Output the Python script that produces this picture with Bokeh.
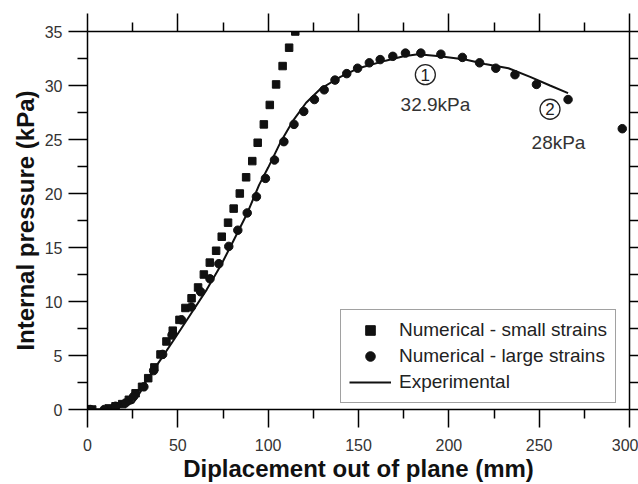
from bokeh.plotting import figure
from bokeh.models import (Range1d, LinearAxis, FixedTicker, Legend, LegendItem,
                          CustomJSTickFormatter)
from bokeh.core.properties import value
from bokeh.embed import file_html
from bokeh.resources import INLINE

# ---------------- data ----------------
x_ticks = [0, 50, 100, 150, 200, 250, 300]
x_minor = [25, 75, 125, 175, 225, 275]
y_ticks = [0, 5, 10, 15, 20, 25, 30, 35]
y_minor = [2.5, 7.5, 12.5, 17.5, 22.5, 27.5, 32.5]

small_x = [0, 2.6, 11.8, 15.5, 19.2, 22.9, 26.6, 30.2, 33.6, 37.0, 40.4, 43.7, 47.2,
           50.9, 54.2, 57.6, 61.2, 64.4, 67.7, 71.2, 74.3, 77.8, 80.9, 84.3, 87.8,
           91.2, 94.2, 97.6, 100.9, 104.4, 108.0, 111.6, 115.0]
small_y = [0, 0, 0.1, 0.3, 0.5, 0.9, 1.5, 2.1, 2.9, 3.9, 5.1, 6.3, 7.3,
           8.3, 9.4, 10.3, 11.3, 12.5, 13.6, 14.7, 16.0, 17.3, 18.6, 20.0, 21.5,
           23.0, 24.7, 26.4, 28.2, 30.1, 31.8, 33.5, 35.0]

large_x = [0, 1.5, 9.3, 15.5, 21.0, 25.5, 31.2, 36.6, 41.6, 46.8, 52.0, 57.5, 62.6,
           67.8, 72.7, 78.2, 83.2, 88.4, 93.5, 98.5, 103.5, 108.7, 114.3, 119.7,
           125.6, 131.0, 137.0, 143.5, 149.5, 156.0, 162.0, 169.0, 176.0, 184.5,
           195.6, 207.5, 217.0, 226.0, 236.6, 248.5, 266.0, 296.0]
large_y = [0, 0, 0, 0.3, 0.6, 1.2, 2.1, 3.6, 5.1, 6.9, 8.3, 9.5, 10.9,
           12.1, 13.5, 15.1, 16.6, 18.2, 19.7, 21.4, 23.1, 24.8, 26.4, 27.6,
           28.7, 29.6, 30.5, 31.1, 31.6, 32.1, 32.4, 32.7, 33.0, 33.0,
           32.9, 32.6, 32.1, 31.6, 31.0, 30.1, 28.7, 26.0]

exp_x = [0, 10, 20, 25.5, 30, 33, 40, 48, 57, 66, 74, 81, 88.5, 95, 100, 107, 114,
         121, 129, 140, 150, 165, 175, 183, 195, 209, 220, 233, 245, 256, 266]
exp_y = [0, 0.05, 0.3, 0.65, 1.8, 2.8, 4.5, 6.5, 8.8, 11.1, 13.4, 15.7, 18.2, 20.8,
         22.4, 24.8, 26.8, 28.4, 29.7, 30.8, 31.6, 32.3, 32.7, 32.9, 32.7, 32.4,
         32.0, 31.6, 30.8, 30.0, 29.3]

circ_x = [187, 256]
circ_y = [31.0, 27.8]
circ_txt = ["1", "2"]
note_x = [192.6, 260.7]
note_y = [28.2, 24.75]
note_txt = ["32.9kPa", "28kPa"]

labels = ["Numerical - small strains", "Numerical - large strains", "Experimental"]

FONT = "Liberation Sans"

# ---------------- figure ----------------
p = figure(width=638, height=484, output_backend="svg", toolbar_location=None,
           x_range=Range1d(0, 300), y_range=Range1d(0, 35),
           min_border_left=87, min_border_top=31, min_border_right=9, min_border_bottom=74)
p.outline_line_color = None
p.xgrid.visible = False
p.ygrid.visible = False
p.background_fill_color = "white"
p.border_fill_color = "white"

xt = FixedTicker(ticks=x_ticks, minor_ticks=x_minor)
yt = FixedTicker(ticks=y_ticks, minor_ticks=y_minor)


def style(ax, major_out, minor_out, color="black"):
    ax.axis_line_color = color
    ax.axis_line_width = 1.5
    ax.major_tick_line_color = color
    ax.major_tick_line_width = 1.5
    ax.minor_tick_line_color = color
    ax.minor_tick_line_width = 1.5
    ax.major_tick_in = 0
    ax.minor_tick_in = 0
    ax.major_tick_out = major_out
    ax.minor_tick_out = minor_out


xa = p.xaxis[0]
xa.ticker = xt
style(xa, 18, 9)
xa.major_label_text_font = FONT
xa.major_label_text_font_size = "16px"
xa.major_label_text_color = "#333333"
xa.major_label_standoff = 11
xa.axis_label = "Diplacement out of plane (mm)"
xa.axis_label_text_font = FONT
xa.axis_label_text_font_style = "bold"
xa.axis_label_text_font_size = "24px"
xa.axis_label_text_color = "#111111"
xa.axis_label_standoff = 1

ya = p.yaxis[0]
ya.ticker = yt
style(ya, 19, 10)
ya.major_label_text_font = FONT
ya.major_label_text_font_size = "16px"
ya.major_label_text_color = "#333333"
ya.major_label_standoff = 6
ya.axis_label = "Internal pressure (kPa)"
ya.axis_label_text_font = FONT
ya.axis_label_text_font_style = "bold"
ya.axis_label_text_font_size = "24px"
ya.axis_label_text_color = "#111111"
ya.axis_label_standoff = 3

blank = CustomJSTickFormatter(code="return ''")

top = LinearAxis(ticker=FixedTicker(ticks=x_ticks, minor_ticks=x_minor), formatter=blank)
style(top, 18, 9)
top.major_label_text_font_size = "8px"
top.major_label_text_color = None
top.major_label_standoff = 0
p.add_layout(top, "above")

right = LinearAxis(ticker=FixedTicker(ticks=y_ticks, minor_ticks=y_minor), formatter=blank)
style(right, 9, 9)
right.major_label_text_font_size = "8px"
right.major_label_text_color = None
right.major_label_standoff = 0
p.add_layout(right, "right")

# ---------------- glyphs ----------------
r_exp = p.line(exp_x, exp_y, line_color="#111111", line_width=2)
r_small = p.scatter(small_x, small_y, marker="square", size=7.5,
                    fill_color="#111111", line_color="#111111")
r_large = p.scatter(large_x, large_y, marker="circle", size=8.5,
                    fill_color="#111111", line_color="#111111")

p.scatter(circ_x, circ_y, marker="circle", size=20, fill_color=None,
          line_color="#222222", line_width=1.3)
p.text(circ_x, circ_y, text=circ_txt, text_font=value(FONT), text_font_size="17px",
       text_align="center", text_baseline="middle", text_color="#222222")
p.text(note_x, note_y, text=note_txt, text_font=value(FONT), text_font_size="19px",
       text_align="center", text_baseline="middle", text_color="#333333")

legend = Legend(items=[LegendItem(label=labels[0], renderers=[r_small]),
                       LegendItem(label=labels[1], renderers=[r_large]),
                       LegendItem(label=labels[2], renderers=[r_exp])],
                location=(253, 6))
legend.label_text_font = FONT
legend.label_text_font_size = "19px"
legend.label_text_color = "#222222"
legend.border_line_color = "#444444"
legend.border_line_width = 1
legend.background_fill_alpha = 1
legend.padding = 8
legend.spacing = 2
legend.glyph_width = 42
legend.glyph_height = 24
legend.label_height = 24
legend.label_standoff = 8
legend.margin = 0
p.add_layout(legend)

open("out.html", "w").write(file_html(p, INLINE))
